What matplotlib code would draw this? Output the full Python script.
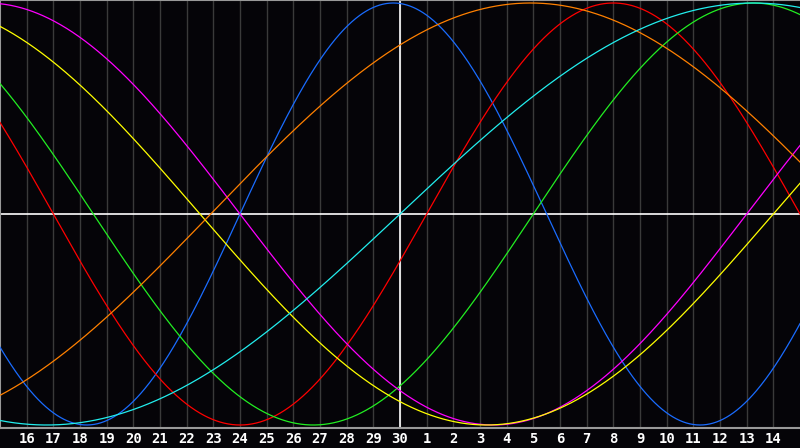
import numpy as np
import matplotlib
matplotlib.use('Agg')
import matplotlib.pyplot as plt
from matplotlib.transforms import blended_transform_factory

# day labels along the bottom (chart slot 1..29)
day_labels = [16, 17, 18, 19, 20, 21, 22, 23, 24, 25, 26, 27, 28, 29, 30,
              1, 2, 3, 4, 5, 6, 7, 8, 9, 10, 11, 12, 13, 14]
today_slot = 15

# cycle lengths in days and the slot where each curve crosses the middle going up
periods = [23, 28, 33, 38, 43, 48, 53]
zero_slot = [9.0, 16.0, 20.0, 28.0, 29.0, 7.9, 15.0]
colors = ['#1a6cff', '#ff0000', '#22ee22', '#ff00ff', '#ffff00', '#ff8000', '#22eeee']

bg = '#050408'
fig = plt.figure(figsize=(8, 4.48), dpi=100, facecolor=bg)
ax = fig.add_axes([0, 20 / 448, 1, 428 / 448])
ax.set_facecolor(bg)

n_slots = 30
ax.set_xlim(0, n_slots)
ax.set_ylim(-214 / 211, 214 / 211)

# day grid
for k in range(1, len(day_labels) + 1):
    ax.axvline(k, color='#3a3a3a', lw=1, zorder=1)

t = np.linspace(0, n_slots, 1200)
for p, z, c in zip(periods, zero_slot, colors):
    ax.plot(t, np.sin(2 * np.pi * (t - z) / p), color=c, lw=0.9, zorder=3)

# today line and middle line
ax.axvline(today_slot, color='white', lw=1.2, zorder=2)
ax.axhline(0, color='white', lw=1.2, zorder=2)

for side in ['top', 'left', 'bottom']:
    ax.spines[side].set_color('#999999')
    ax.spines[side].set_linewidth(1.5)
ax.spines['right'].set_visible(False)
ax.set_yticks([])
ax.set_xticks([])

trans = blended_transform_factory(ax.transData, fig.transFigure)
for k, lab in enumerate(day_labels, start=1):
    fig.text(k, 9 / 448, str(lab), transform=trans, color='white',
             fontsize=10, fontweight='bold', family='DejaVu Sans Mono',
             ha='center', va='center')

fig.savefig('out.png', dpi=100, facecolor=bg)
